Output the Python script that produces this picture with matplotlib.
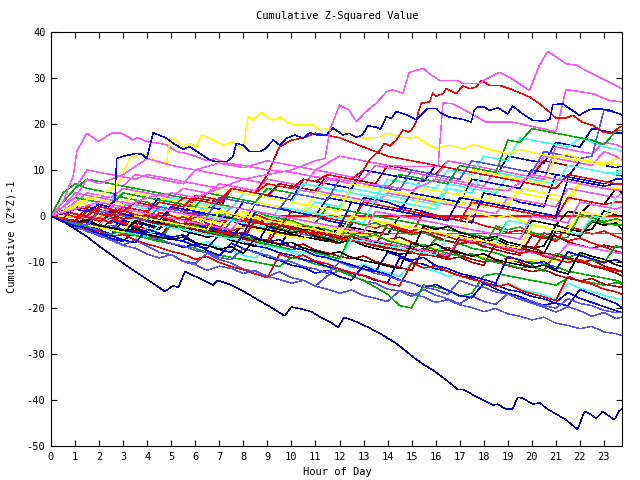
import numpy as np
import matplotlib
matplotlib.use("Agg")
import matplotlib.pyplot as plt

# ---------------- data ----------------
title = "Cumulative Z-Squared Value"
xlabel = "Hour of Day"
ylabel = "Cumulative (Z*Z)-1"
x_ticks = list(range(0, 24))
y_ticks = [-50, -40, -30, -20, -10, 0, 10, 20, 30, 40]

RED, GREEN, BLUE, PINK, CYAN = '#ff0000', '#00b000', '#0000ff', '#ff55ff', '#40ffff'
DRED, YEL, BLK, LBLUE, NAVY = '#b00000', '#ffff00', '#000000', '#5555ff', '#0000a8'

# half-hour grid (0 .. 23.5, then 23.75)
half_hours = [i * 0.5 for i in range(48)] + [23.75]

s01 = [0,-0.8,-1.9,-1.2,0.6,-0.3,-1.4,-2.1,-2.9,0.8, 0.1,-0.9,-0.4,-1.6,-2.3,-3.2,-2.5,0.4,-0.7,-1.3, -2.4,-2.0,-3.1,-3.9,-4.6,-1.2,-2.0,-2.6,-1.9,-3.0, -3.8,0.9,0.2,-0.8,-0.1,-1.2,-2.1,-2.7,-3.6,-3.1, -4.0,-4.7,-5.5,-2.2,-3.0,-3.9,-3.3,-4.4,-5.0]
s02 = [0,5,7,6,5.5,5,4,3.5,3,2, 1.5,1,0,-0.5,-1,2,1.5,1,0,-0.5, -1,-2,-2.5,-3,-4,-4.5,-5,-5.5,-6,-7, -7.5,-8,-5,-5.5,-6,-7,-7.5,-8,-9,-9.5, -10,-10.5,-11,-12,-12.5,-13,-13.5,-14,-14.5]
s03 = [0,-1,-2,-2.5,-3,-4,-1,-1.5,-2,-3, 2,1.5,1,0,-0.5,-1,-2,3,2.5,2, 1,0.5,0,-1,-1.5,-2,4,3.5,3,2, 1.5,1,0,-0.5,-1,-1.5,5,4.5,4,3, 2.5,2,9,8.5,8,7.5,7,8,8]
s04 = [0,3,6,10,9.5,9,8.5,8,9,8.5, 8,7.5,7,6.5,6,5.5,5,4.5,4,7, 6.5,6,5.5,5,4.5,4,3.5,3,5,4.5, 4,3.5,3,2.5,2,1.5,1,0.5,4,3.5, 3,2.5,2,6,5.5,5,4.5,4,5]
s05 = [0,2,5,4.5,4,3.5,5,4.5,4,3.5, 3,2.5,2,1.5,4,3.5,3,2.5,2,1.5, 1,0.5,3,2.5,2,6,5.5,5,4.5,4, 3.5,3,2.5,7,6.5,6,5.5,5,9,8.5, 8,12,11.5,11,10.5,10,9.5,9.5,10]
s06 = [0,-0.6,-1.5,-2.2,0.9,0.1,-0.8,-0.2,-1.3,-2.0, 1.8,0.9,0.3,-0.7,-1.1,-0.4,-1.6,-2.4,-2.9,-3.8, -4.3,-3.5,-4.6,-5.4,-6.0,-2.8,-3.9,-4.4,-5.2,-4.6, -5.7,-6.5,-7.4,-6.8,-7.9,-8.6,-9.1,-10.0,-9.2,-10.1, -11.0,-11.8,-8.1,-9.0,-9.8,-10.9,-11.5,-12.4,-13.0]
s07 = [0,-0.9,-1.7,-1.1,-2.3,-3.0,0.2,-0.6,-1.5,-0.9, -2.0,-2.8,-3.5,2.1,1.3,0.4,0.9,-0.2,-1.0,-1.9, -1.3,-2.4,-3.0,-3.9,-3.2,-4.4,-5.1,-1.0,-1.9,-2.5, -3.4,-2.8,-3.9,-4.6,-5.3,1.2,0.3,-0.4,0.2,-0.9, -1.8,-2.4,-3.3,-2.7,0.3,-0.6,-1.4,-0.9,-2.0]
s08 = [0,-0.5,-1,-1.5,-2,-2.5,-3,-3.5,-1,-1.5, -2,-2.5,-3,-3.5,-4,-4.5,-2,-2.5,-3,-3.5, -4,-4.5,-5,-5.5,-2,-2.5,-3,-3.5,-4,0, -0.5,-1,-1.5,-2,-2.5,-3,-3.5,-4,-4.5,-5, -1,-1.5,-2,1,0.5,3,2.5,6,5]
s09 = [0,-1.2,-2.5,-3.1,-4.4,-5.0,-6.3,-5.2,-6.5,-7.9, -8.4,-9.8,-10.3,-8.1,-9.5,-10.2,-11.6,-12.0,-13.3,-12.1, -13.4,-14.0,-15.2,-13.0,-11.8,-12.9,-14.1,-14.6,-15.9,-16.3, -17.5,-16.0,-17.2,-18.0,-19.1,-17.4,-18.6,-19.2,-16.9,-18.1, -19.0,-19.8,-20.9,-19.7,-20.6,-21.8,-21.0,-22.3,-22.0]
s10 = [0,1.2,0.4,-0.3,-1.1,-0.5,-1.6,-2.4,0.8,0.1, -0.8,-0.2,-1.3,-2.1,-2.8,0.3,-0.5,-1.4,-0.9,-2.0, -2.7,-3.6,-3.0,-4.1,-4.9,-5.6,-5.0,-6.2,-1.8,-2.7, -3.3,-2.6,-3.8,-4.5,-5.3,-4.7,-5.9,-6.6,-7.4,-6.8, -7.9,-3.7,-4.5,-5.4,-4.8,-5.9,-6.7,-7.6,-8.0]
s11 = [0,-1,-2,-2.5,-3.5,-4,-3,-4,-4.5,-5.5, -6,-6.5,-7,-8,-8.5,-9,-9.5,-10,-10.5,-11, -9,-9.5,-10.5,-11,-12,-13,-14,-15.5,-17,-19.5, -20,-15,-15.5,-16,-17.5,-16.8,-13,-12.5,-13,-13.5, -14,-14.5,-15,-13.5,-14,-14.5,-15,-14.5,-14.8]
s12 = [0,1,0.5,0,3,2.5,2,1.5,1,4, 3.5,3,2.5,2,1.5,6,5.5,5,4.5,4, 3.5,8,7.5,7,6.5,6,10,9.5,9,8.5, 8,7.5,11,10.5,10,9.5,9,8.5,13,12.5, 12,11.5,16,15.5,15,19,18.5,18,18]
s13 = [0,2,4,8,7.5,7,6.5,9,8.5,8, 7.5,7,10,9.5,9,8.5,8,7.5,7,6.5, 6,5.5,5,8,7.5,7,6.5,6,5.5,5, 4.5,9,8.5,8,7.5,7,6.5,10,9.5,9, 8.5,13,12.5,12,11.5,11,14,13,12]
s14 = [0,-1.3,-1.8,-2.9,-3.5,-4.6,-3.9,-5.2,-2.6,-3.8, -4.4,-5.5,-6.3,-5.6,-6.9,-7.4,-8.6,-9.1,-6.2,-7.1, -7.9,-8.8,-8.1,-9.3,-10.0,-11.2,-10.5,-11.6,-12.4,-13.1, -10.3,-11.4,-12.0,-13.2,-12.5,-13.7,-14.4,-15.3,-14.6,-15.8, -16.5,-17.1,-18.2,-14.6,-15.7,-16.4,-17.3,-17.9,-18.0]
s15 = [0,-0.5,2,1.5,1,0.5,3,2.5,2,1.5, 1,0.5,4,3.5,3,6,5.5,5,4.5,7, 6.5,6,5.5,9,8.5,8,7.5,7,11,10.5, 10,9.5,9,12,11.5,11,10.5,10,9.5,9, 8.5,12,11.5,11,10.5,10,9.5,9,8.7]
s16 = [0,1,3,2.5,2,1.5,1,0.5,0,3, 2.5,2,1.5,1,0.5,0,-0.5,3,2.5,2, 1.5,1,5,4.5,4,3.5,3,2.5,2,1.5, 1,6,5.5,5,4.5,4,3.5,3,2.5,6, 5.5,5,4.5,4,7.5,7,6.5,6,6]
s17 = [0,-1.2,-2.3,-2.8,-4.0,-4.9,-5.5,-3.1,-4.3,-5.1, -6.0,-6.8,-6.1,-7.5,-8.6,-5.9,-7.1,-7.8,-9.0,-9.6, -10.7,-11.2,-12.4,-11.8,-13.2,-13.9,-10.8,-12.0,-12.7,-13.9, -14.5,-15.6,-14.9,-16.2,-17.3,-17.8,-14.6,-15.9,-16.8,-17.5, -18.6,-19.4,-18.8,-16.6,-17.9,-18.8,-19.7,-20.6,-21.0]
s18 = [0,-0.5,-1,2,1.5,1,0.5,0,-0.5,-1, -1.5,-2,1,0.5,0,-0.5,-1,-1.5,-2,-2.5, 1,0.5,0,-0.5,-1,-1.5,3,2.5,2,1.5, 1,0.5,0,-0.5,-1,3,2.5,2,1.5,1, 0.5,0,-0.5,4,3.5,3,2.5,3,3]
s19 = [0,-0.7,-1.4,-0.8,-2.1,1.2,0.3,-0.5,0.1,-1.0, -1.9,-2.4,-1.7,-3.0,0.4,-0.5,-1.3,-0.8,-2.0,-2.6, -3.4,-2.9,-4.0,-4.7,-5.3,-1.1,-2.0,-1.5,-2.7,-3.3, -4.1,-3.6,-4.7,-5.4,-6.2,-5.5,-6.8,-2.2,-3.0,-2.4, -3.6,-4.3,-5.1,-4.6,0.4,-0.4,-1.2,-0.6,-1.0]
s20 = [0,-1.3,-2.2,-3.4,-4.1,-5.3,-6.4,-7.0,-8.3,-9.1, -8.4,-9.9,-10.6,-11.8,-10.9,-11.4,-12.5,-11.9,-13.1,-13.8, -14.6,-14.0,-15.3,-15.9,-16.8,-16.1,-17.3,-17.9,-18.6,-16.2, -16.9,-17.6,-18.8,-18.2,-19.3,-19.9,-20.8,-20.1,-21.3,-21.8, -22.6,-22.0,-23.3,-23.8,-24.5,-24.0,-25.2,-25.6,-26.0]
s21 = [0,1,3,5,4.5,4,6,5.5,5,4.5, 4,6,5.5,5,7,6.5,6,5.5,8,7.5, 7,6.5,10,9.5,9,8.5,8,11,10.5,10, 9.5,9,8.5,12,11.5,11,10.5,10,9.5,9, 8.5,8,15,14.5,14,13.5,16,15.5,15]
s22 = [0,2,1.5,1,0.5,3,2.5,2,1.5,1, 4,3.5,3,2.5,2,1.5,5,4.5,4,3.5, 3,7,6.5,6,5.5,5,4.5,4,8,7.5, 7,6.5,6,10,9.5,9,13,12.5,12,17, 16.5,16,15.5,15,17,16,15,14.5,14]
s23 = [0,-1.1,-1.6,-2.5,-1.9,1.3,0.4,-0.4,0.2,-0.9, -1.7,-2.3,-1.6,-2.9,-3.7,-4.2,-4.9,-1.2,-2.0,-1.4, -2.6,-3.3,-4.0,-3.4,-4.6,-5.3,-5.9,-6.5,-7.1,-3.2, -3.9,-3.3,-4.5,-5.4,-6.0,-5.4,-6.6,-7.3,-8.0,-8.5, -4.2,-4.9,-4.3,-5.6,-6.4,-7.0,-6.3,-6.9,-6.7]
s24 = [0,-0.6,-1.4,-0.9,-2.0,-2.7,-3.4,0.3,-0.4,-1.3, -0.8,-2.1,-2.7,-3.5,-3.0,-4.1,-4.8,-5.6,-6.1,-6.8, -2.3,-3.0,-2.4,-3.6,-4.5,-5.1,-4.5,-5.8,-6.4,-7.3, -7.8,-7.1,-8.5,-9.0,-4.2,-4.9,-5.7,-5.0,-6.3,-6.9, -7.6,-8.2,-3.1,-3.9,-4.4,-1.2,-2.0,-1.5,-3.0]
s25 = [0,-1,-1.5,-2,-2.5,1,0.5,0,-0.5,-1, 2,1.5,1,0.5,0,-0.5,3,2.5,2,1.5, 1,0.5,0,4,3.5,3,2.5,2,1.5,1, 5,4.5,4,3.5,3,8,7.5,7,6.5,6, 10,9.5,9,8.5,12,11.5,11,10.5,11]
s26 = [0,-0.5,-1,-1.5,0.5,0,-0.5,-1,-1.5,-2, -2.5,-3,-0.5,-1,-1.5,-2,-2.5,-3,-3.5,-4, -4.5,-5,-2,-2.5,-3,-3.5,-4,-4.5,-5,-5.5, -6,-6.5,-7,-7.5,-8,-8.5,-9,-9.5,-9.6,-9.6, -9.6,-9.6,-9.6,-9.6,-9.6,-9.6,-9.6,-9.6,-9.6]
s27 = [0,-0.5,-1,-1.5,-2,1,0.5,0,-0.5,-1, -1.5,-2,-2.5,-3,-3.5,-4,-4.5,-5,-5.5,0, 0,0,0,0,0,0,0,0,0,0, 0,0,0,0,0,0,0,0,0,0, 0,0,0,0,0,0,0,0,0]
s28 = [-0.3] * 49
s29 = [0,0,0,0,0,0,0,0,0,0, 0,0,0,0,0,0,0,0,-0.5,-1, -1.5,-2,1,0.5,0,-0.5,3,2.5,2,1.5, 1,0.5,4,3.5,3,2.5,2,6,5.5,5, 4.5,4,3.5,3,7,6.5,6,5.5,5.9]
s30 = [0,-1,-1.5,-2,-2.5,-3,-0.5,-1,-1.5,-2, -2.5,-3,-3.5,-4,-4.5,-1,-1.5,-2,-2.5,-3, -3.5,-4,-4.5,-5,-3.8,-3.8,-3.8,-3.8,-3.8,-3.8, -3.8,-3.8,-3.8,-3.8,-3.8,-3.8,-3.8,-3.8,-3.8,-3.8, -3.8,-3.8,-3.8,-3.8,-3.8,-3.8,-3.8,-3.8,-3.8]
s31 = [0,3,6,8,7.5,7,6.5,6,5.5,5, 4.5,4,3.5,3,2.5,2,1.5,1,0.5,0, -0.5,-1,-1.5,2,1.5,1,0.5,0,-0.5,-1, -1.5,-2,-2.5,-3,-3.5,-4,-4.5,-5,-1,-1.5, -2,-2.5,-3,-3.5,-4,-1,-1.5,-2,-2]
s32 = [0,-0.5,-1.5,-2,-3,-1,-2,-2.5,-3.5,-4, -5,-5.5,-6.5,-7,-4,-5,-5.5,-6.5,-7,-8, -8.5,-9.5,-10,-11,-11.5,-12.5,-13,-14,-14.5,-9, -10,-10.5,-11.5,-12,-13,-13.5,-14.5,-15,-16,-16.5, -17.5,-18,-19,-19.5,-16,-17,-18,-19,-20]
s33 = [0,-1.2,-1.8,-2.9,-3.3,-4.5,-4.0,-5.2,-6.1,-6.8, -7.7,-8.3,-9.4,-8.8,-10.1,-11.0,-11.7,-12.6,-13.4,-8.3, -9.1,-8.5,-9.8,-10.4,-11.5,-12.3,-12.9,-13.8,-14.7,-15.2, -10.2,-11.3,-10.8,-12.1,-13.0,-13.8,-14.3,-15.4,-14.8,-16.1, -16.9,-17.6,-18.4,-13.1,-14.2,-14.8,-15.9,-16.5,-17.0]
s34 = [0,-0.7,-1.5,-1.0,-2.2,-2.8,-3.6,-3.1,-4.2,-4.9, -1.2,-1.9,-1.4,-2.6,-3.3,-4.1,-3.6,-4.8,-5.3,-6.1, -6.7,-6.1,-7.4,-8.0,-8.8,-9.3,-8.7,-9.9,-10.6,-11.2, -11.8,-7.1,-7.9,-7.3,-8.6,-9.4,-10.0,-9.5,-10.8,-11.4, -12.1,-11.6,-12.8,-13.5,-14.1,-13.6,-14.8,-15.3,-15.5]
s35 = [0,-0.5,-1,-1.5,-2,0,-0.5,-1,-1.5,-2, -2.5,-3,-3.5,0,-0.5,-1,-1.5,-2,-2.5,2, 1.5,1,0.5,0,-0.5,-1,-1.5,4,3.5,3, 2.5,2,1.5,6,5.5,5,10,9.5,9,8.5, 8,7.5,7,11,10.5,10,9.5,9,9.4]
s36 = [0,1,2,4,3.5,3,2.5,5,4.5,4, 3.5,3,2.5,2,6,5.5,5,4.5,4,3.5, 3,2.5,2,1.5,1,7,6.5,6,5.5,5, 4.5,4,3.5,3,2.5,10,9.5,9,8.5,8, 7.5,7,13,12.5,12,11.5,11,12.5,12]
s37 = [0,-1.1,-1.8,-2.4,-1.8,-3.0,-3.7,-1.0,-1.8,-2.5, -2.0,-3.2,-3.9,-4.6,-4.1,-5.3,-6.0,-6.6,-2.2,-2.9, -3.7,-3.1,-4.4,-5.0,-5.8,-5.2,-6.4,-7.1,-7.6,-8.3, -8.0,-2.1,-2.9,-2.3,-3.6,-4.3,-5.0,-4.4,-5.7,-6.3, -7.0,-6.5,-2.0,-2.8,-3.4,-2.9,1.1,0.2,0.0]
s38 = [0,1,0.5,0,-0.5,2,1.5,1,0.5,0, -0.5,-1,-1.5,-2,-2.5,-3,0,-0.5,-1,-1.5, -2,-2.5,-3,-3.5,-4,-4.5,-5,-5.5,-6,-6.5, -7,-7.5,-8,-8.5,-5,-5.5,-6,-6.5,-7,-7.5, -8,-8.5,-9,-6,-6.5,-7,-7.5,-8,-8]
s39 = [0,2,4,3.5,3,2.5,5,4.5,4,3.5, 3,2.5,2,5,4.5,4,3.5,3,6,5.5, 5,4.5,4,3.5,8,7.5,7,6.5,6,9, 8.5,8,7.5,7,11,10.5,10,9.5,16.5,16, 19,18.5,18,17.5,17,16.5,15.5,18.5,18.6]
s40 = [0,-1,-1.5,-2.5,-3,-2,-3,-3.5,-4.5,-5, -6,-6.5,-7.5,-8,-9,-9.5,-7,-8,-8.5,-9.5, -10,-11,-11.5,-12.5,-10,-11,-11.5,-12.5,-13,-14, -14.5,-15.5,-16,-17,-14,-15,-15.5,-16.5,-17,-18, -18.5,-19.5,-20,-18,-19,-19.5,-20.5,-21,-21]
s41 = [0,0.6,-0.2,-0.9,-0.4,-1.6,1.2,0.3,-0.4,0.1, -1.1,-1.8,-2.5,-2.0,-3.2,-3.8,-4.5,-1.0,-1.8,-1.2, -2.5,-3.3,-3.9,-3.4,-4.6,-5.3,-5.8,-6.6,-6.1,-7.3, -7.9,-8.6,-8.0,-9.2,-5.1,-5.9,-5.4,-6.7,-7.3,-8.1, -7.6,-8.8,-9.4,-10.1,-9.5,-10.7,-11.3,-11.9,-12.0]
s42 = [0,-0.5,-1,-1.5,-2,-2.5,-3,-3.5,-4,-4.5, -5,-5.5,-2,-2.5,-3,-3.5,-4,1,0.5,0, -0.5,-1,-1.5,-2,-2.5,3,2.5,2,1.5,1, 0.5,0,-0.5,-1,4,3.5,3,2.5,2,1.5, 1,0.5,0,8,7.5,7,6.5,7,7]
s43 = [0,-1.0,-1.7,-1.2,1.1,0.3,-0.6,-0.1,-1.2,-1.8, -2.3,-1.8,-3.0,-3.7,-4.3,-3.8,-5.0,-5.6,-6.3,-2.1, -2.8,-2.2,-3.6,-4.2,-4.9,-4.3,-5.6,-6.2,-6.9,-7.5, -7.0,-8.2,-8.8,-9.4,-8.9,-10.1,-10.7,-5.8,-6.6,-7.2, -6.7,-8.0,-8.6,-9.3,-10.1,-9.6,-10.9,-11.6,-12.2]
s44 = [0,-1,-1.5,-2,-2.5,-3,-3.5,-4,-4.5,-2, -2.5,-3,-3.5,-4,-4.5,-5,-5.5,-6,-6.5,-7, -7.5,-8,-8.5,-9,-9.5,-5,-5.5,-6,-6.5,-7, -7.5,-8,-8.5,-4,-4.5,-5,-5.5,-6,-1,-1.5, -2,-2.5,-3,-3.5,-4,0,-0.5,4,4]
s45 = [0,-1.1,-1.7,-2.4,-1.9,-3.1,-3.8,-4.2,-4.9,-5.5, -1.8,-2.6,-2.1,-3.4,-4.0,-4.7,-4.2,-5.4,-6.1,-6.7, -7.3,-6.8,-8.0,-8.6,-9.3,-3.9,-4.7,-4.1,-5.4,-6.0, -6.7,-6.2,-7.4,-8.1,-8.7,-8.2,-9.4,-10.1,-10.6,-11.3, -10.8,-12.0,-8.1,-8.9,-8.3,-9.6,-10.2,-6.4,-7.0]
s46 = [0,2,5,4.5,4,3.5,3,2.5,2,1.5, 1,0.5,0,-0.5,-1,2,1.5,1,0.5,0, -0.5,-1,-1.5,-2,-2.5,-3,-3.5,1,0.5,0, -0.5,-1,-1.5,-2,-2.5,-3,-3.5,-4,-4.5,-5, 0,-0.5,-1,-1.5,3,2.5,2,1.5,2]
s47 = [0,-1.3,-2.1,-2.6,-3.8,-4.3,-5.2,-5.8,-2.9,-3.7, -4.6,-4.1,-5.8,-6.4,-7.3,-7.9,-3.8,-4.6,-5.7,-5.1, -6.8,-7.4,-8.6,-9.1,-9.9,-10.6,-11.5,-12.1,-7.9,-8.7, -9.6,-9.0,-10.8,-11.4,-12.5,-13.1,-13.8,-14.6,-8.8,-9.6, -10.4,-9.9,-11.7,-7.8,-8.6,-9.3,-10.1,-9.5,-10.0]
s48 = [0,-1,-1.5,-2,-2.5,-3,-3.5,0,-0.5,-1, -1.5,-2,-2.5,-3,1,0.5,0,-0.5,-1,-1.5, -2,-2.5,-3,-3.5,-4,0,-0.5,-1,-1.5,-2, -2.5,-3,-3.5,-4,-4.5,-5,-5.5,-6,-6.5,-7, -2,-2.5,-3,-3.5,1,0.5,0,1,1]
s49 = [0,-0.7,-1.3,-0.9,-2.1,-2.6,-3.2,-2.7,-4.0,-4.6, -5.1,-4.6,-5.9,-6.4,-7.2,-6.7,-8.1,-4.9,-5.6,-6.2, -5.7,-7.0,-7.6,-8.3,-7.8,-9.0,-9.7,-10.2,-10.9,-11.4, -5.9,-6.7,-6.1,-7.4,-8.0,-8.7,-8.2,-9.5,-10.1,-10.6, -11.2,-10.7,-11.9,-12.6,-7.9,-8.8,-9.4,-10.6,-11.0]
s50 = [0,1,0.5,0,2,1.5,1,3,2.5,2, 1.5,4,3.5,3,2.5,6,5.5,5,9,15, 16.5,17,18,17.5,17,16,15,14,13,12.5, 12,11.5,11,10.5,10,9.5,9,8.5,8,7.5, 7,6.5,6,9,8.5,8,7.5,7,7]
s51 = [0,-1,-1.5,-2,1,0.5,0,-0.5,-1,2, 1.5,1,0.5,0,4,3.5,3,2.5,2,1.5, 5,4.5,4,3.5,8,7.5,7,6.5,6,5.5, 10,9.5,9,8.5,8,12,11.5,11,10.5,10, 9.5,14,13.5,13,12.5,13,23,22.5,22]

grid_series = [
    (s28, CYAN), (s27, RED), (s29, YEL),
    (s01, RED), (s02, GREEN), (s03, BLUE), (s04, PINK), (s05, CYAN),
    (s06, DRED), (s07, YEL), (s08, BLK), (s09, LBLUE), (s10, RED),
    (s11, GREEN), (s12, BLUE), (s13, PINK), (s14, CYAN), (s15, DRED),
    (s16, YEL), (s17, BLUE), (s18, RED), (s19, GREEN), (s20, LBLUE),
    (s21, PINK), (s22, CYAN), (s23, DRED), (s24, BLK), (s25, BLUE),
    (s26, YEL), (s30, LBLUE), (s31, GREEN), (s32, BLUE), (s33, RED),
    (s34, DRED), (s35, CYAN), (s36, YEL), (s37, BLK), (s38, PINK),
    (s39, GREEN), (s40, LBLUE), (s41, RED), (s42, BLUE), (s43, DRED),
    (s44, CYAN), (s45, GREEN), (s46, PINK), (s47, BLUE), (s48, YEL),
    (s49, BLK), (s50, RED), (s51, LBLUE),
]

# prominent traced series: (hours, values)
navy_h = [0,0.5,1,1.5,2.04,2.6,3.28,4.0,4.74,5.07,5.3,5.57,6.2,6.73,6.94,7.5,7.85,8.6,9.2,9.72,10.0,10.4,10.83,11.18,11.6,11.94,12.2,12.7,13.2,13.67,14.36,15.05,15.5,15.88,16.4,16.92,17.13,17.82,18.38,18.57,18.93,19.2,19.41,19.62,20.04,20.32,20.66,21.42,21.9,22.19,22.39,22.67,22.95,23.43,23.64,23.75]
navy_v = [0,-1.2,-2.8,-4.5,-6.7,-8.8,-11.3,-13.8,-16.4,-15.2,-15.5,-12.1,-13.6,-15,-14,-15,-15.9,-18.2,-20.0,-21.7,-19.8,-20.2,-20.8,-21.9,-23,-24.2,-22,-23,-24.2,-25.5,-27.7,-30.6,-32.3,-33.5,-35.5,-37.7,-37.7,-39.6,-41.1,-40.9,-42,-42,-39.4,-39.6,-40.9,-40.6,-42,-44.3,-46.4,-42.5,-42.9,-44,-42.5,-44.3,-42.3,-42]

p1_h = [0,1,2,3,4,5,6,7,8,9,10,11,11.4,11.6,12.0,12.4,12.7,13.1,13.53,13.95,14.22,14.64,14.9,15.47,15.75,16.16,16.86,17.13,17.82,18.1,18.65,19.07,19.9,20.32,20.66,21.42,21.84,22.53,23.22,23.64,23.75]
p1_v = [0,1.5,3,2,4,5,4,6,8,9,10,12,12.5,18.7,24.1,23,20.5,22.7,24.5,27,27.4,26.7,31.2,32.1,30.9,29.5,29.5,28.8,28.8,29.8,31.2,30.2,27.3,32.8,35.8,33.1,32.8,30.9,29.1,28,27.5]

r1_h = [0,0.5,1,1.5,2,2.5,3,3.5,4,4.5,5,5.5,6,6.5,7,7.5,8,8.5,9,9.5,10,10.5,11,11.5,12,12.5,13.0,13.25,13.67,13.88,14.1,14.36,14.64,14.85,15.0,15.19,15.3,15.4,15.75,15.88,16.0,16.3,16.44,16.86,17.13,17.41,17.68,17.9,18.24,18.65,19.07,19.9,20.32,20.73,21.0,21.42,21.7,22.1,22.53,22.95,23.3,23.64,23.75]
r1_v = [0,-0.5,-1,1,0.5,0,2,1.5,1,3,2.5,2,4.5,4,3.5,6,5.5,5,7,6.5,6,8,7.5,9,8.5,8,10,12.2,14.3,15.8,15.2,16.5,18.7,18.3,18.7,20.5,23,24.5,24.8,26.7,26.0,26.6,27.7,26.6,28.3,27.7,28,29.5,28.4,28.4,27.7,25.9,24.4,22.6,21.3,21.3,21.9,20.4,19.7,18.3,17.9,19.3,19.5]

b1_h = [0,0.5,1,1.5,2,2.4,2.66,2.73,3.0,3.56,3.8,3.98,4.25,4.81,5.08,5.5,5.77,6.19,6.6,6.88,7.3,7.57,7.71,7.99,8.27,8.68,8.9,9.24,9.52,9.79,10.14,10.48,10.76,11.1,11.45,11.73,12.15,12.4,12.7,12.95,13.18,13.53,13.7,13.95,14.15,14.36,14.78,15.19,15.4,15.67,16.02,16.16,16.58,17.13,17.48,17.6,17.75,18.0,18.24,18.6,19.0,19.2,19.62,20.04,20.5,20.75,20.87,21.28,21.98,22.2,22.46,22.81,23.22,23.64,23.75]
b1_v = [0,0.5,1.5,1,2.5,2,3.5,12.5,13,13.6,13.4,12.5,18.1,16.9,15.8,14.5,15.1,13.6,12.2,11.8,11.8,12.9,15.8,15.4,14,14,14.5,16.5,15.4,16.9,17.6,16.9,18.1,17.6,17.6,19.1,17.6,18,17.1,17.6,19.6,19.3,18.8,21.6,21.2,22.7,22,20.9,22,23.4,23.4,22.6,21.5,21,20.4,23,23.7,23.7,23,23.5,22.2,23.9,22.2,20.8,20.6,21,24.2,24.4,21.9,22.6,23.2,23.3,23.0,22.2,22]

y1_h = [0,0.5,1,1.5,2,2.5,2.8,3.28,3.63,3.98,4.39,4.81,4.94,5.2,5.5,5.77,6.05,6.26,6.74,7.16,7.57,7.85,8.0,8.2,8.4,8.75,8.95,9.24,9.52,9.79,10.14,10.62,10.9,11.18,11.6,12.0,12.7,13.1,13.67,13.95,14.5,14.91,15.2,15.6,16.02,16.58,17.13,17.6,18.2,19,19.5,20,21,21.5,22,23,23.75]
y1_v = [0,1,2.5,3.5,4.5,6,7.1,12.5,13.3,13.6,11.5,11.5,16.9,16.5,15.1,15.8,15.1,17.6,16.5,15.4,16.2,14.7,15,21.6,20.9,22.5,21.6,20.9,21.5,20.5,19.8,19.8,19.8,18.7,19.1,18.3,17.2,16.9,17.1,18,17.2,16.9,17.2,15.8,14.7,15.4,14.6,15.5,14.5,13.5,14.5,13.8,12.8,13.5,12.3,11.5,11]

p3_h = [0,0.5,0.93,1.07,1.48,1.75,1.97,2.52,2.94,3.42,3.6,3.98,4.39,4.8,5.22,5.64,6.05,6.47,6.8,7.3,8,9,10,11,12,13,14,15,16,17,18,19,20,21,22,23,23.75]
p3_v = [0,3,8.9,14,18,17,16.2,18,18,16.5,17,16.2,15.9,15.5,14,13.6,12.9,12,12.5,11.5,11,10,9.5,8.5,8,7,6.5,5.5,8,7,6,5.5,9,8,7,6,5.5]

p4_h = [0,0.5,1,1.5,2,3,4,5,6,7,8,9,10,11,12,13,14,14.9,16.1,16.3,16.72,17.48,18.1,19.2,20,21,21.42,22.53,23.22,23.75]
p4_v = [0,2,4,8,7,9,12.5,11,10,11.5,10.5,12,11,10,13,12,11,10.7,10.7,24.6,24.4,22.2,20.4,20.4,19.5,18.3,27.5,26.6,25.1,24.8]

traced_series = [
    (p3_h, p3_v, PINK), (y1_h, y1_v, YEL), (p4_h, p4_v, PINK),
    (r1_h, r1_v, RED), (b1_h, b1_v, BLUE), (p1_h, p1_v, PINK),
    (navy_h, navy_v, NAVY),
]

# ---------------- plot ----------------
mono = 'DejaVu Sans Mono'
fig = plt.figure(figsize=(6.4, 4.8), dpi=100)
ax = fig.add_axes([51/640, 1 - 446/480, (622 - 51)/640, (446 - 32)/480])

lw = 0.3
for vals, col in grid_series:
    n = min(len(vals), len(half_hours))
    ax.plot(half_hours[:n], vals[:n], color=col, lw=lw, antialiased=False)
for hh, vv, col in traced_series:
    n = min(len(hh), len(vv))
    ax.plot(hh[:n], vv[:n], color=col, lw=lw, antialiased=False)

ax.set_xlim(0, 23.75)
ax.set_ylim(-50, 40)
ax.set_xticks(x_ticks)
ax.set_xticklabels([str(t) for t in x_ticks], fontfamily=mono, fontsize=7.5)
ax.set_yticks(y_ticks)
ax.set_yticklabels([str(t) for t in y_ticks], fontfamily=mono, fontsize=7.5)
ax.tick_params(direction='in', length=4.5, width=0.8, top=True, right=True,
               pad=4, colors='black')
for sp in ax.spines.values():
    sp.set_linewidth(0.8)

fig.text(337/640, 1 - 16/480, title, ha='center', va='center',
         fontfamily=mono, fontsize=7.5)
fig.text(337/640, 1 - 472/480, xlabel, ha='center', va='center',
         fontfamily=mono, fontsize=7.5)
fig.text(12/640, 1 - 237/480, ylabel, ha='center', va='center',
         rotation=90, fontfamily=mono, fontsize=7.5)

fig.savefig('out.png', dpi=100)
